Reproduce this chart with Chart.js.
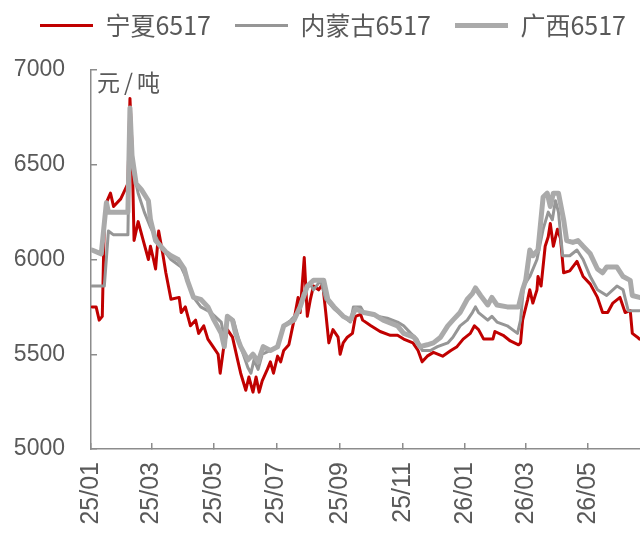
<!DOCTYPE html>
<html>
<head>
<meta charset="UTF-8">
<title>6517 price</title>
<script src="https://cdn.jsdelivr.net/npm/chart.js@4.4.0/dist/chart.umd.min.js"></script>
<style>
  body { margin: 0; background: #fff; }
  .chartWrapper { width: 640px; height: 536px; }
</style>
</head>
<body>
<div class="chartWrapper"><canvas id="chartPrice" width="640" height="536"></canvas></div>
<script>
// x = days since 2025-01-01
const tickDays = [0, 59, 120, 181, 243, 304, 365, 424, 485];
const tickLabels = ['25/01', '25/03', '25/05', '25/07', '25/09', '25/11', '26/01', '26/03', '26/05'];

// 宁夏6517
const nxDays = [1,5,8,11,13,15,19,22,29,36,38,40,42,46,51,56,58,61,63,66,70,73,78,86,88,92,97,102,105,110,114,119,124,126,129,133,138,143,146,151,154,158,161,164,167,172,175,178,182,185,188,193,198,202,204,208,211,214,217,222,226,229,232,236,241,243,246,250,255,258,263,265,273,282,292,299,305,314,319,323,328,334,343,351,357,363,370,374,378,383,392,394,402,409,417,419,421,426,428,431,435,436,439,443,446,448,451,455,458,461,467,474,480,487,494,499,504,509,516,521,526,528,533,535];
const nxPrice = [5750,5750,5680,5700,6200,6300,6350,6280,6320,6400,6850,6600,6100,6200,6100,6000,6070,6000,5950,6150,6030,5930,5790,5800,5720,5750,5650,5680,5610,5650,5580,5540,5500,5400,5520,5630,5590,5470,5400,5310,5380,5300,5380,5300,5360,5420,5460,5400,5490,5460,5520,5550,5680,5800,5720,6010,5700,5790,5860,5840,5870,5720,5560,5630,5590,5500,5560,5590,5610,5700,5710,5680,5650,5620,5600,5600,5580,5560,5520,5460,5490,5510,5490,5520,5540,5580,5610,5650,5630,5580,5580,5620,5600,5570,5550,5560,5680,5790,5840,5770,5840,5910,5860,6070,6120,6190,6070,6160,6110,5930,5940,5990,5910,5870,5800,5720,5720,5770,5800,5720,5730,5610,5590,5580];

// 内蒙古6517
const nmgDays = [1,13,17,22,36,38,40,46,52,58,65,71,78,88,94,100,107,117,127,130,133,139,146,153,156,159,163,167,175,182,188,195,202,207,214,217,224,229,237,246,253,256,263,266,280,289,299,305,312,318,323,331,338,348,353,360,367,372,375,378,387,391,396,406,416,419,422,428,435,441,446,450,453,456,460,467,474,480,487,494,503,513,519,524,535];
const nmgPrice = [5860,5860,6150,6130,6130,6800,6500,6350,6250,6170,6100,6050,6000,5960,5890,5800,5750,5720,5670,5590,5700,5680,5540,5430,5400,5470,5420,5500,5520,5540,5650,5680,5720,5820,5870,5840,5890,5790,5740,5700,5670,5750,5750,5720,5700,5690,5670,5650,5610,5580,5520,5520,5540,5560,5590,5650,5680,5720,5750,5720,5680,5700,5670,5650,5610,5680,5860,5910,6000,6160,6250,6210,6310,6250,6020,6020,6050,6000,5910,5840,5810,5860,5840,5730,5730];

// 广西6517
const gxDays = [1,10,15,17,36,38,40,44,49,56,58,63,68,73,78,85,91,94,100,107,114,120,127,130,133,138,141,146,153,158,163,168,175,182,188,198,204,211,217,227,231,237,246,253,258,266,276,285,299,305,315,321,328,334,341,348,353,360,367,372,375,380,387,391,396,406,417,421,424,428,431,436,441,445,448,451,456,461,464,470,475,480,487,494,499,503,513,519,526,528,535];
const gxPrice = [6050,6030,6300,6250,6250,6800,6550,6400,6370,6310,6210,6100,6070,6040,6020,6000,5950,5890,5800,5790,5750,5680,5610,5540,5700,5680,5610,5540,5470,5500,5460,5540,5520,5540,5650,5680,5750,5860,5890,5890,5790,5750,5700,5680,5740,5720,5710,5680,5650,5610,5590,5540,5550,5560,5590,5650,5680,5720,5790,5820,5850,5810,5760,5800,5760,5750,5750,5840,5890,6050,6020,6050,6330,6350,6280,6350,6350,6210,6100,6090,6100,6070,6030,5950,5930,5960,5960,5910,5890,5810,5800];

const toPoints = (days, vals) => days.map((d, i) => ({x: d, y: vals[i]}));

const axisColor = '#8c8c8c';
const textColor = '#595959';

// room under the legend, and legend nudged to the right edge
const legendSpacer = {
  id: 'legendSpacer',
  beforeInit(chart) {
    const fit = chart.legend.fit;
    chart.legend.fit = function () {
      fit.call(this);
      this.height += 22;
    };
  },
  afterLayout(chart) {
    chart.legend.left += 10;
    chart.legend.right += 10;
  }
};

// unit text in the top left corner of the plot
const unitLabel = {
  id: 'unitLabel',
  afterDatasetsDraw(chart) {
    const {ctx, chartArea} = chart;
    ctx.save();
    ctx.font = '23px "Noto Sans CJK SC"';
    ctx.letterSpacing = '4px';
    ctx.fillStyle = textColor;
    ctx.textBaseline = 'top';
    ctx.fillText('元/吨', chartArea.left + 6, chartArea.top + 1);
    ctx.restore();
  }
};

new Chart(document.getElementById('chartPrice'), {
  type: 'line',
  data: {
    datasets: [
      {label: '宁夏6517', data: toPoints(nxDays, nxPrice), borderColor: '#c00000', backgroundColor: '#c00000', borderWidth: 3, order: 3},
      {label: '内蒙古6517', data: toPoints(nmgDays, nmgPrice), borderColor: '#969696', backgroundColor: '#969696', borderWidth: 3, order: 2},
      {label: '广西6517', data: toPoints(gxDays, gxPrice), borderColor: '#aaaaaa', backgroundColor: '#aaaaaa', borderWidth: 5, order: 1}
    ]
  },
  options: {
    responsive: false,
    animation: false,
    elements: {
      point: {radius: 0},
      line: {tension: 0, borderJoinStyle: 'round', borderCapStyle: 'round'}
    },
    layout: {padding: {top: -11, left: 0, right: 0, bottom: 0}},
    scales: {
      x: {
        type: 'linear',
        min: 0,
        max: 535.5,
        afterBuildTicks: (axis) => {
          axis.ticks = tickDays.map(v => ({value: v}));
        },
        afterFit: (axis) => { axis.height = 87; },
        grid: {drawOnChartArea: false, tickLength: -6, color: axisColor, lineWidth: 1.5},
        border: {color: axisColor, width: 1.5},
        ticks: {
          autoSkip: false,
          minRotation: 90,
          maxRotation: 90,
          padding: 19,
          color: textColor,
          font: {family: '"Liberation Sans", Arial', size: 25},
          callback: (v) => tickLabels[tickDays.indexOf(v)]
        }
      },
      y: {
        min: 5000,
        max: 7000,
        afterFit: (axis) => { axis.width = 91; },
        grid: {drawOnChartArea: false, tickLength: -6, color: axisColor, lineWidth: 1.5},
        border: {color: axisColor, width: 1.5},
        ticks: {
          stepSize: 500,
          padding: 32,
          color: textColor,
          font: {family: '"Liberation Sans", Arial', size: 23},
          callback: (v) => String(v)
        }
      }
    },
    plugins: {
      legend: {
        position: 'top',
        align: 'end',
        labels: {
          usePointStyle: true,
          pointStyle: 'line',
          pointStyleWidth: 53,
          padding: 24,
          color: textColor,
          font: {family: '"Noto Sans CJK SC"', size: 25},
          sort: (a, b) => a.datasetIndex - b.datasetIndex
        }
      },
      tooltip: {enabled: false}
    }
  },
  plugins: [legendSpacer, unitLabel]
});
</script>
</body>
</html>
